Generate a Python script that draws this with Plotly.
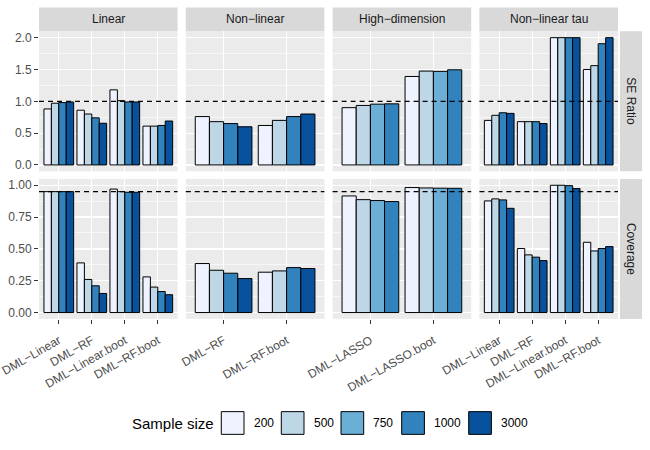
import plotly.graph_objects as go

# ---------------- data ----------------
sample_sizes = [200, 500, 750, 1000, 3000]
size_colors = ["#EFF3FF", "#BDD7E7", "#6BAED6", "#3182BD", "#08519C"]

facet_titles = ["Linear", "Non\u2212linear", "High\u2212dimension", "Non\u2212linear tau"]
row_titles = ["SE Ratio", "Coverage"]
ref_lines = [1.0, 0.95]

linear_methods = ["DML\u2212Linear", "DML\u2212RF", "DML\u2212Linear.boot", "DML\u2212RF.boot"]
linear_sizes = [200, 500, 1000, 3000]
linear_se = [[0.88, 0.86, 1.18, 0.61],
             [0.97, 0.80, 1.01, 0.61],
             [0.98, 0.74, 0.99, 0.62],
             [0.99, 0.655, 0.99, 0.69]]
linear_cov = [[0.95, 0.39, 0.97, 0.28],
              [0.95, 0.26, 0.95, 0.20],
              [0.95, 0.21, 0.945, 0.165],
              [0.95, 0.15, 0.945, 0.14]]

nonlin_methods = ["DML\u2212RF", "DML\u2212RF.boot"]
nonlin_sizes = [200, 500, 1000, 3000]
nonlin_se = [[0.76, 0.62], [0.68, 0.70], [0.65, 0.76], [0.60, 0.80]]
nonlin_cov = [[0.385, 0.317], [0.332, 0.327], [0.309, 0.353], [0.267, 0.346]]

highdim_methods = ["DML\u2212LASSO", "DML\u2212LASSO.boot"]
highdim_sizes = [200, 500, 750, 1000]
highdim_se = [[0.90, 1.39], [0.935, 1.475], [0.955, 1.47], [0.96, 1.495]]
highdim_cov = [[0.916, 0.982], [0.887, 0.979], [0.880, 0.977], [0.872, 0.976]]

tau_methods = ["DML\u2212Linear", "DML\u2212RF", "DML\u2212Linear.boot", "DML\u2212RF.boot"]
tau_sizes = [200, 500, 1000, 3000]
tau_se = [[0.70, 0.68, 2.0, 1.50],
          [0.78, 0.68, 2.0, 1.56],
          [0.82, 0.68, 2.0, 1.905],
          [0.81, 0.65, 2.0, 2.0]]
tau_cov = [[0.877, 0.503, 1.0, 0.552],
           [0.893, 0.453, 1.0, 0.484],
           [0.885, 0.435, 0.997, 0.503],
           [0.819, 0.408, 0.974, 0.518]]

facets = [
    (linear_methods, linear_sizes, linear_se, linear_cov),
    (nonlin_methods, nonlin_sizes, nonlin_se, nonlin_cov),
    (highdim_methods, highdim_sizes, highdim_se, highdim_cov),
    (tau_methods, tau_sizes, tau_se, tau_cov),
]

# ---------------- layout geometry (pixels) ----------------
W, H = 650, 450
col_left = [39.0, 185.8, 332.6, 479.4]
col_w = 138.6
row_top = [31.3, 178.9]
row_h = 140.0
strip_top = 7.5
strip_r = (620.0, 642.0)

def px(x):
    return x / W

def py(y):
    return 1 - y / H

fig = go.Figure()
layout = dict(
    width=W, height=H, autosize=False,
    margin=dict(l=0, r=0, t=0, b=0, autoexpand=False),
    paper_bgcolor="white", plot_bgcolor="#EBEBEB",
    barmode="group", bargap=0.1, bargroupgap=0,
    showlegend=False,
    font=dict(family="Liberation Sans, Arial, sans-serif", size=12, color="#4D4D4D"),
)
shapes = []
annotations = []

y_ranges = [[-0.1, 2.1], [-0.05, 1.05]]
y_dtick = [0.5, 0.25]
y_fmt = [".1f", ".2f"]

for r in range(2):
    for c in range(4):
        k = r * 4 + c + 1
        xa = "xaxis" if k == 1 else f"xaxis{k}"
        ya = "yaxis" if k == 1 else f"yaxis{k}"
        xn = "x" if k == 1 else f"x{k}"
        yn = "y" if k == 1 else f"y{k}"
        methods, sizes, se, cov = facets[c]
        vals = se if r == 0 else cov
        for si, s in enumerate(sizes):
            col = size_colors[sample_sizes.index(s)]
            fig.add_trace(go.Bar(
                x=methods, y=vals[si], name=str(s), xaxis=xn, yaxis=yn,
                marker=dict(color=col, line=dict(color="black", width=1)),
                offsetgroup=str(s),
            ))
        n = len(methods)
        layout[xa] = dict(
            domain=[px(col_left[c]), px(col_left[c] + col_w)],
            anchor=yn, type="category", categoryorder="array", categoryarray=methods,
            range=[-0.6, n - 0.4], automargin=False,
            showgrid=True, gridcolor="white", gridwidth=1.2,
            zeroline=False, showline=False,
            showticklabels=(r == 1), ticks="outside" if r == 1 else "",
            ticklen=4, tickwidth=1, tickcolor="#333333",
            tickangle=-30, tickfont=dict(size=12, color="#4D4D4D"),
            ticklabelstandoff=5,
            fixedrange=True,
        )
        layout[ya] = dict(
            domain=[py(row_top[r] + row_h), py(row_top[r])],
            anchor=xn, range=y_ranges[r], dtick=y_dtick[r], tick0=0,
            tickformat=y_fmt[r], automargin=False,
            showgrid=True, gridcolor="white", gridwidth=1.2,
            minor=dict(showgrid=True, dtick=y_dtick[r] / 2, gridcolor="white",
                       gridwidth=0.6, ticks=""),
            zeroline=False, showline=False,
            showticklabels=(c == 0), ticks="outside" if c == 0 else "",
            ticklen=4, tickwidth=1, tickcolor="#333333",
            tickfont=dict(size=12, color="#4D4D4D"),
            fixedrange=True,
        )
        # reference dashed line
        shapes.append(dict(
            type="line", xref=f"{xn} domain", yref=yn, x0=0, x1=1,
            y0=ref_lines[r], y1=ref_lines[r],
            line=dict(color="black", width=1.2, dash="5px,4px"), layer="above",
        ))

# top strips
for c in range(4):
    shapes.append(dict(type="rect", xref="paper", yref="paper",
                       x0=px(col_left[c]), x1=px(col_left[c] + col_w),
                       y0=py(row_top[0]), y1=py(strip_top),
                       fillcolor="#D9D9D9", line=dict(width=0), layer="below"))
    annotations.append(dict(xref="paper", yref="paper",
                            x=px(col_left[c] + col_w / 2), y=py((strip_top + row_top[0]) / 2),
                            text=facet_titles[c], showarrow=False,
                            font=dict(size=12, color="#1A1A1A"),
                            xanchor="center", yanchor="middle"))
# right strips
for r in range(2):
    shapes.append(dict(type="rect", xref="paper", yref="paper",
                       x0=px(strip_r[0]), x1=px(strip_r[1]),
                       y0=py(row_top[r] + row_h), y1=py(row_top[r]),
                       fillcolor="#D9D9D9", line=dict(width=0), layer="below"))
    annotations.append(dict(xref="paper", yref="paper",
                            x=px((strip_r[0] + strip_r[1]) / 2), y=py(row_top[r] + row_h / 2),
                            text=row_titles[r], showarrow=False, textangle=90,
                            font=dict(size=12, color="#1A1A1A"),
                            xanchor="center", yanchor="middle"))

# legend (manual)
leg_y = 423.0
key = 22.7
key_x = [221.3, 281.3, 341.0, 401.7, 468.7]
annotations.append(dict(xref="paper", yref="paper", x=px(130), y=py(leg_y),
                        text="Sample size", showarrow=False, xanchor="left", yanchor="middle",
                        font=dict(size=15, color="black")))
for i, s in enumerate(sample_sizes):
    shapes.append(dict(type="rect", xref="paper", yref="paper",
                       x0=px(key_x[i]), x1=px(key_x[i] + key),
                       y0=py(leg_y + key / 2), y1=py(leg_y - key / 2),
                       fillcolor=size_colors[i], line=dict(color="black", width=1)))
    annotations.append(dict(xref="paper", yref="paper", x=px(key_x[i] + key + 7.5), y=py(leg_y),
                            text=str(s), showarrow=False, xanchor="left", yanchor="middle",
                            font=dict(size=12, color="black")))

layout["shapes"] = shapes
layout["annotations"] = annotations
fig.update_layout(**layout)
fig.write_html("out.html",
               config={"displayModeBar": False, "staticPlot": True},
               post_script="document.body.style.margin='0';document.body.style.overflow='hidden';")
